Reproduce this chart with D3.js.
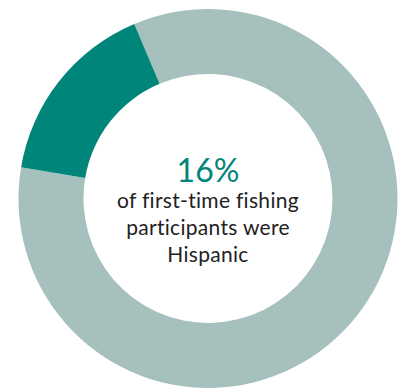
<!DOCTYPE html>
<html>
<head>
<meta charset="utf-8">
<script src="https://cdn.jsdelivr.net/npm/d3@7"></script>
<style>
html, body { margin: 0; padding: 0; background: #fff; }
svg { display: block; }
</style>
</head>
<body>
<svg id="chart" width="404" height="390"></svg>
<script>
const categories = ["Not Hispanic", "Hispanic"];
const values = [84, 16];
const colors = ["#A5C0BD", "#00857A"];
const headline = "16%";
const captionLines = ["of first-time fishing", "participants were", "Hispanic"];

const W = 404, H = 390;
const cx = 208, cy = 198.5;
const outerR = 189.5, innerR = 124.5;
const start = -22.9 * Math.PI / 180;

const svg = d3.select("#chart");
const g = svg.append("g").attr("transform", `translate(${cx},${cy})`);

const pie = d3.pie().sort(null).startAngle(start).endAngle(start + 2 * Math.PI);
const arc = d3.arc().innerRadius(innerR).outerRadius(outerR);

g.selectAll("path")
  .data(pie(values))
  .join("path")
  .attr("d", arc)
  .attr("fill", (d, i) => colors[i]);

g.append("text")
  .attr("x", 0)
  .attr("y", 182 - cy)
  .attr("text-anchor", "middle")
  .attr("font-family", "Lato, 'Open Sans', sans-serif")
  .attr("font-size", 32)
  .attr("fill", "#00857A")
  .text(headline);

g.selectAll("text.cap")
  .data(captionLines)
  .join("text")
  .attr("class", "cap")
  .attr("x", 0)
  .attr("y", (d, i) => 208 + i * 27 - cy)
  .attr("text-anchor", "middle")
  .attr("font-family", "Lato, 'Open Sans', sans-serif")
  .attr("font-size", 21)
  .attr("letter-spacing", 0.3)
  .attr("fill", "#222")
  .text(d => d);
</script>
</body>
</html>
